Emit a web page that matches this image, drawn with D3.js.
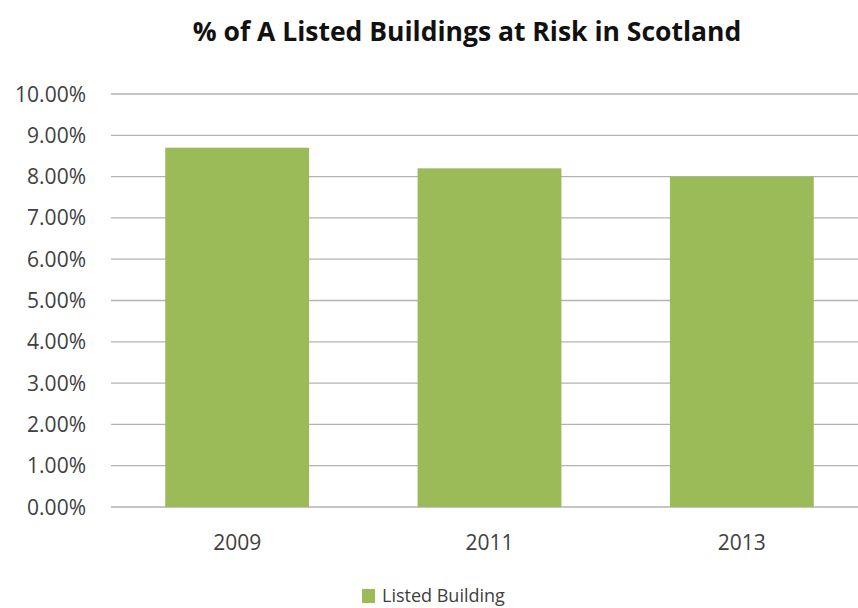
<!DOCTYPE html>
<html>
<head>
<meta charset="utf-8">
<script src="https://cdnjs.cloudflare.com/ajax/libs/d3/7.8.5/d3.min.js"></script>
<style>
  body { margin: 0; background: #fff; }
  text { font-family: "Open Sans", "Noto Sans", sans-serif; }
</style>
</head>
<body>
<svg id="main"></svg>
<script>
var years = ["2009", "2011", "2013"];
var pctAtRisk = [8.7, 8.2, 8.0];
var yTicks = [0, 1, 2, 3, 4, 5, 6, 7, 8, 9, 10];
var seriesName = "Listed Building";
var title = "% of A Listed Buildings at Risk in Scotland";

var chart = {
  width: 858,
  height: 608,
  left: 111,
  right: 868,
  top: 94,
  bottom: 507
}

var svg = d3.select("#main")
  .attr("width", chart.width)
  .attr("height", chart.height)

var x = d3.scaleBand()
  .domain(years)
  .range([chart.left, chart.right])
  .paddingInner(0.43)
  .paddingOuter(0.215)

var y = d3.scaleLinear()
  .domain([0, 10])
  .range([chart.bottom, chart.top])

// gridlines
svg.append("g")
  .selectAll("line")
  .data(yTicks)
  .enter().append("line")
  .attr("x1", chart.left)
  .attr("x2", chart.right)
  .attr("y1", function(d) { return y(d) })
  .attr("y2", function(d) { return y(d) })
  .attr("stroke", "#b3b3b3")
  .attr("stroke-width", 1.3)

// y labels
svg.append("g")
  .selectAll("text")
  .data(yTicks)
  .enter().append("text")
  .attr("x", 86)
  .attr("y", function(d) { return y(d) })
  .attr("dy", "0.36em")
  .attr("text-anchor", "end")
  .attr("font-size", 21)
  .attr("fill", "#404040")
  .text(function(d) { return d.toFixed(2) + "%" })

// bars
svg.append("g")
  .selectAll("rect")
  .data(pctAtRisk)
  .enter().append("rect")
  .attr("x", function(d, i) { return x(years[i]) })
  .attr("width", x.bandwidth())
  .attr("y", function(d) { return y(d) })
  .attr("height", function(d) { return y(0) - y(d) })
  .attr("fill", "#9bbb59")

// x labels
svg.append("g")
  .selectAll("text")
  .data(years)
  .enter().append("text")
  .attr("x", function(d) { return x(d) + x.bandwidth() / 2 })
  .attr("y", 542)
  .attr("dy", "0.36em")
  .attr("text-anchor", "middle")
  .attr("font-size", 21)
  .attr("fill", "#404040")
  .text(function(d) { return d })

// title
svg.append("text")
  .attr("x", 467)
  .attr("y", 31)
  .attr("dy", "0.36em")
  .attr("text-anchor", "middle")
  .attr("font-size", 26.5)
  .attr("font-weight", "bold")
  .attr("fill", "#111")
  .text(title)

// legend
svg.append("rect")
  .attr("x", 362)
  .attr("y", 589)
  .attr("width", 13)
  .attr("height", 14)
  .attr("fill", "#9bbb59")

svg.append("text")
  .attr("x", 382)
  .attr("y", 596)
  .attr("dy", "0.36em")
  .attr("font-size", 18)
  .attr("fill", "#404040")
  .text(seriesName)
</script>
</body>
</html>
